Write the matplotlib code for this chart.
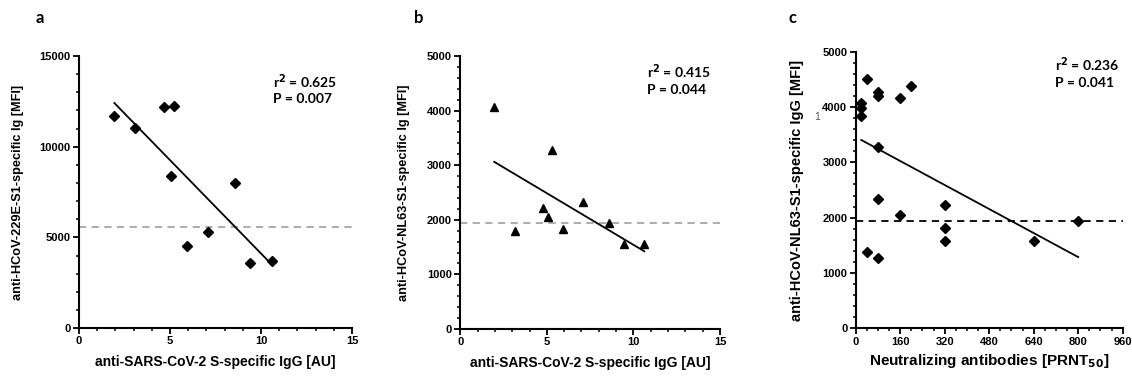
import numpy as np
import matplotlib

matplotlib.use("Agg")
import matplotlib.pyplot as plt
from matplotlib.ticker import MultipleLocator

# ---- Data
a_x = [1.94, 3.08, 4.69, 5.23, 5.04, 5.92, 7.08, 8.56, 9.41, 10.62]
a_y = [11700, 11020, 12170, 12250, 8410, 4540, 5310, 7990, 3580, 3690]
a_cut = 5545

b_x = [1.96, 3.16, 4.76, 5.08, 5.28, 5.93, 7.11, 8.61, 9.43, 10.63]
b_y = [4070, 1800, 2215, 2045, 3280, 1825, 2320, 1940, 1550, 1565]
b_cut = 1935

c_x = [20, 20, 20, 40, 80, 80, 80, 80, 40, 80, 160, 200, 160, 320, 320, 320, 640, 800]
c_y = [4080, 3975, 3840, 4500, 4265, 4200, 3285, 2330, 1380, 1265,
       4170, 4385, 2050, 2230, 1815, 1575, 1580, 1945]
c_cut = 1940

x_lbl_ab = "anti-SARS-CoV-2 S-specific IgG [AU]"
y_lbls = ["anti-HCoV-229E-S1-specific Ig [MFI]",
          "anti-HCoV-NL63-S1-specific Ig [MFI]",
          "anti-HCoV-NL63-S1-specific IgG [MFI]"]
stats = [("0.625", "0.007"), ("0.415", "0.044"), ("0.236", "0.041")]

plt.rcParams["font.family"] = ["Liberation Sans", "DejaVu Sans"]
plt.rcParams["font.weight"] = "bold"

fig = plt.figure(figsize=(11.32, 3.78), dpi=100)
fig.patch.set_facecolor("white")

ax_a = fig.add_axes([0.0698, 0.132, 0.2412, 0.720])
ax_b = fig.add_axes([0.4066, 0.1296, 0.2294, 0.7224])
ax_c = fig.add_axes([0.7559, 0.1315, 0.2359, 0.7317])


def style(ax, xmax, xmaj, xmin, ymax, ymaj, ymin):
    ax.set_xlim(0, xmax)
    ax.set_ylim(0, ymax)
    for s in ("top", "right"):
        ax.spines[s].set_visible(False)
    for s in ("left", "bottom"):
        ax.spines[s].set_linewidth(1.5)
    ax.xaxis.set_major_locator(MultipleLocator(xmaj))
    ax.xaxis.set_minor_locator(MultipleLocator(xmin))
    ax.yaxis.set_major_locator(MultipleLocator(ymaj))
    ax.yaxis.set_minor_locator(MultipleLocator(ymin))
    ax.tick_params(which="major", length=4, width=1.3, labelsize=8, pad=2)
    ax.tick_params(which="minor", length=2.5, width=1.1)
    for lab in ax.get_xticklabels() + ax.get_yticklabels():
        lab.set_fontweight("bold")


def fit_line(ax, x, y):
    k, d = np.polyfit(x, y, 1)
    xs = np.array([min(x), max(x)])
    ax.plot(xs, k * xs + d, color="black", lw=1.3, zorder=2)


def annot(ax, r2, p, xt, yt):
    ax.text(xt, yt, f"r$^{{2}}$ = {r2}\nP = {p}", transform=ax.transAxes,
            family=["Lato", "DejaVu Sans"], fontsize=10, fontweight="bold",
            ha="left", va="top", linespacing=1.25)


# ---- a
style(ax_a, 15, 5, 1, 15000, 5000, 1000)
ax_a.axhline(a_cut, color="#a6a6a6", ls=(0, (4, 3)), lw=1.3, zorder=1)
fit_line(ax_a, a_x, a_y)
ax_a.plot(a_x, a_y, "D", color="black", ms=5.3, zorder=3)
ax_a.set_xlabel(x_lbl_ab, fontsize=10, fontweight="bold", labelpad=6)
ax_a.set_ylabel(y_lbls[0], fontsize=9.2, fontweight="bold", labelpad=11)
annot(ax_a, *stats[0], 0.71, 0.94)

# ---- b
style(ax_b, 15, 5, 1, 5000, 1000, 200)
ax_b.axhline(b_cut, color="#a6a6a6", ls=(0, (4, 3)), lw=1.3, zorder=1)
fit_line(ax_b, b_x, b_y)
ax_b.plot(b_x, b_y, "^", color="black", ms=5.8, zorder=3)
ax_b.set_xlabel(x_lbl_ab, fontsize=10, fontweight="bold", labelpad=6)
ax_b.set_ylabel(y_lbls[1], fontsize=9.2, fontweight="bold", labelpad=12)
annot(ax_b, *stats[1], 0.72, 0.975)

# ---- c
style(ax_c, 960, 160, 40, 5000, 1000, 200)
ax_c.axhline(c_cut, color="black", ls=(0, (4, 3)), lw=1.3, zorder=1)
fit_line(ax_c, c_x, c_y)
ax_c.plot(c_x, c_y, "D", color="black", ms=5.3, zorder=3)
ax_c.set_xlabel("Neutralizing antibodies [PRNT$_{\\mathbf{50}}$]", fontsize=11,
                fontweight="bold", labelpad=4)
ax_c.set_ylabel(y_lbls[2], fontsize=10.5, fontweight="bold", labelpad=13)
annot(ax_c, *stats[2], 0.745, 0.985)
ax_c.text(-0.132, 0.763, "1", transform=ax_c.transAxes, fontsize=7.5,
          fontweight="normal", color="#555555", ha="right", va="center")

# ---- panel letters
for lbl, xp in (("a", 0.0353), ("b", 0.370), ("c", 0.700)):
    fig.text(xp, 0.952, lbl, family=["Lato", "DejaVu Sans"], fontsize=12,
             fontweight="bold", ha="center", va="center")

fig.savefig("out.png", dpi=100, facecolor="white")
